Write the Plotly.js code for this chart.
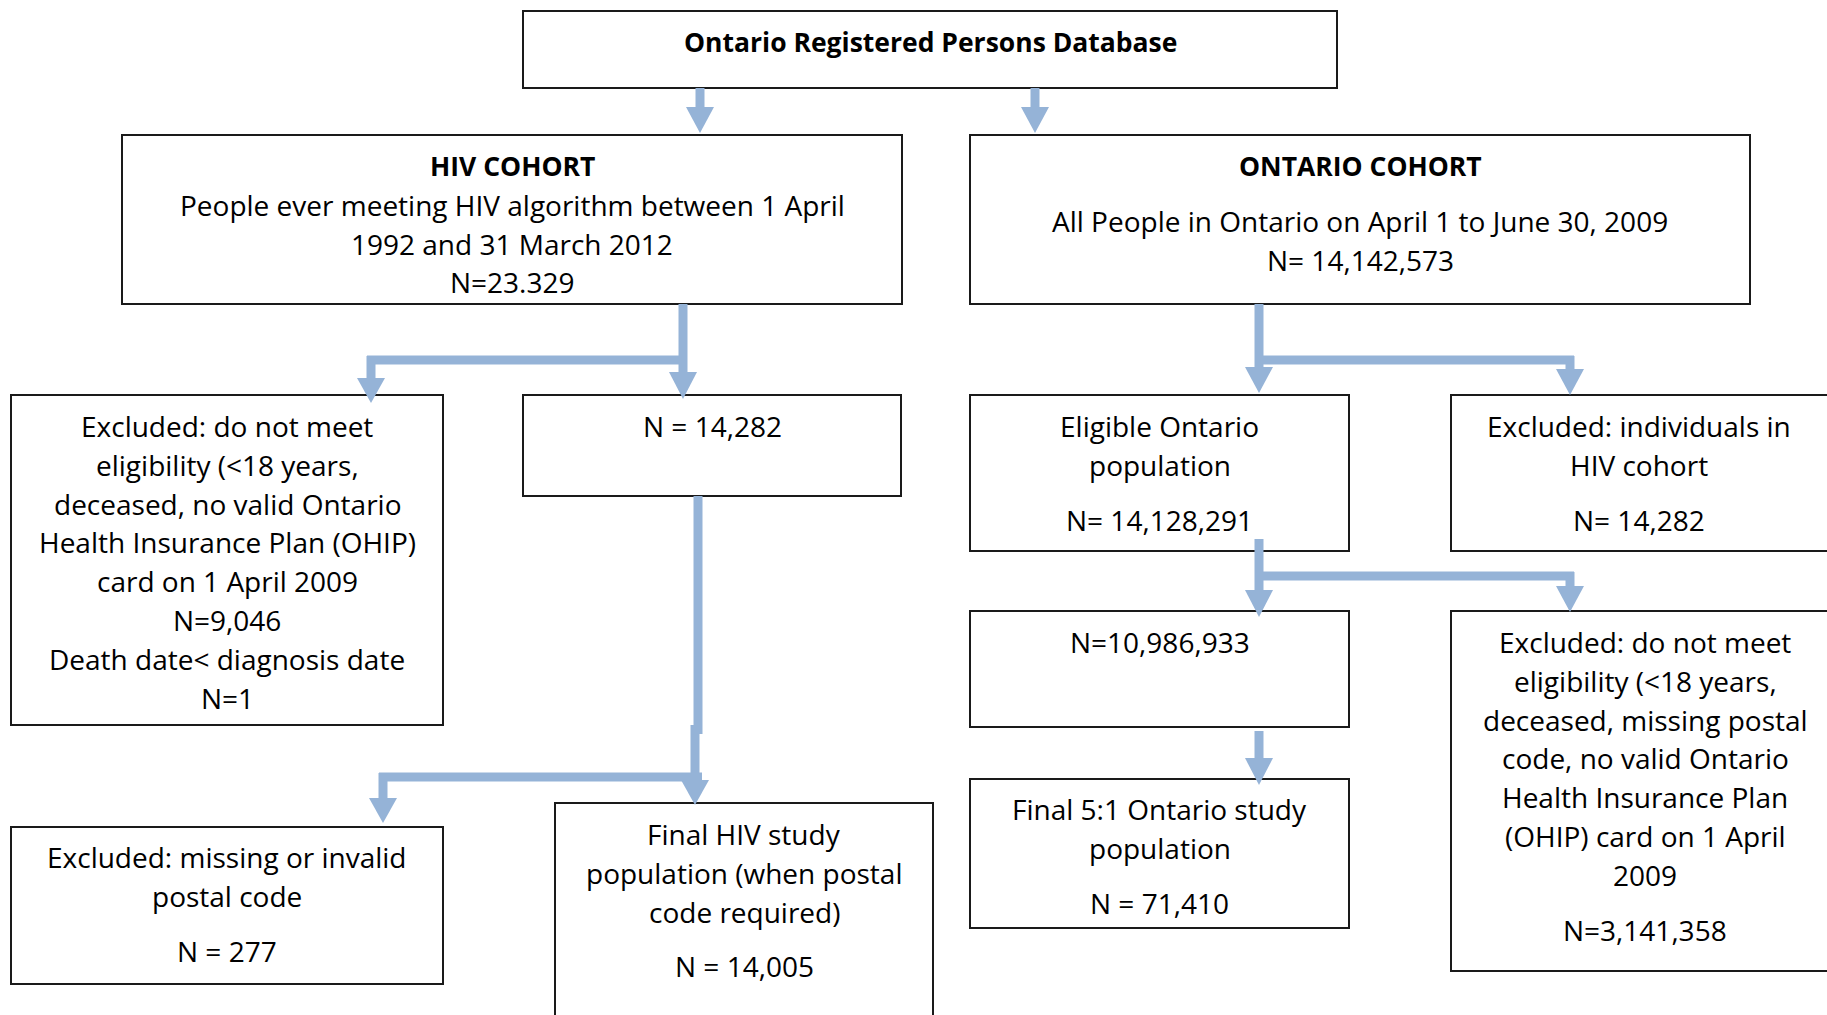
<!DOCTYPE html>
<html>
<head>
<meta charset="utf-8">
<script src="https://cdn.plot.ly/plotly-3.0.1.min.js"></script>
<style>html,body{margin:0;padding:0;background:#fff;}#chart{width:1827px;height:1015px;}</style>
</head>
<body>
<div id="chart"></div>
<script>
// ---- DATA: box texts (paragraphs separated by "") ----
const sourceLines = ["Ontario Registered Persons Database"];
const hivCohortLines = ["HIV COHORT", "People ever meeting HIV algorithm between 1 April", "1992 and 31 March 2012", "N=23.329"];
const ontCohortLines = ["ONTARIO COHORT", "", "All People in Ontario on April 1 to June 30, 2009", "N= 14,142,573"];
const hivExcl1Lines = ["Excluded: do not meet", "eligibility (<18 years,", "deceased, no valid Ontario", "Health Insurance Plan (OHIP)", "card on 1 April 2009", "N=9,046", "Death date< diagnosis date", "N=1"];
const hivEligibleLines = ["N = 14,282"];
const hivExcl2Lines = ["Excluded: missing or invalid", "postal code", "", "N = 277"];
const hivFinalLines = ["Final HIV study", "population (when postal", "code required)", "", "N = 14,005"];
const ontEligibleLines = ["Eligible Ontario", "population", "", "N= 14,128,291"];
const ontExcl1Lines = ["Excluded: individuals in", "HIV cohort", "", "N= 14,282"];
const ontAfterLines = ["N=10,986,933"];
const ontExcl2Lines = ["Excluded: do not meet", "eligibility (<18 years,", "deceased, missing postal", "code, no valid Ontario", "Health Insurance Plan", "(OHIP) card on 1 April", "2009", "", "N=3,141,358"];
const ontFinalLines = ["Final 5:1 Ontario study", "population", "", "N = 71,410"];

// ---- LAYOUT GEOMETRY (pixel coordinates on the canvas) ----
const W = 1827, H = 1015;
const LINE = 38.8, GAP = 16;
const boxes = [
  {lines: sourceLines,      x0: 523,  x1: 1337, y0: 11,  y1: 88,  ty: 42,  bold: [0]},
  {lines: hivCohortLines,   x0: 122,  x1: 902,  y0: 135, y1: 304, ty: 166, bold: [0]},
  {lines: ontCohortLines,   x0: 970,  x1: 1750, y0: 135, y1: 304, ty: 166, bold: [0]},
  {lines: hivExcl1Lines,    x0: 11,   x1: 443,  y0: 395, y1: 725, ty: 426, bold: []},
  {lines: hivEligibleLines, x0: 523,  x1: 901,  y0: 395, y1: 496, ty: 426, bold: []},
  {lines: ontEligibleLines, x0: 970,  x1: 1349, y0: 395, y1: 551, ty: 426, bold: []},
  {lines: ontExcl1Lines,    x0: 1451, x1: 1829, y0: 395, y1: 551, ty: 426, bold: []},
  {lines: ontAfterLines,    x0: 970,  x1: 1349, y0: 611, y1: 727, ty: 642, bold: []},
  {lines: ontExcl2Lines,    x0: 1451, x1: 1829, y0: 611, y1: 971, ty: 642, bold: [], cx: 1645},
  {lines: hivExcl2Lines,    x0: 11,   x1: 443,  y0: 827, y1: 984, ty: 857, bold: []},
  {lines: hivFinalLines,    x0: 555,  x1: 933,  y0: 803, y1: 1040, ty: 834, bold: []},
  {lines: ontFinalLines,    x0: 970,  x1: 1349, y0: 779, y1: 928, ty: 809, bold: []}
];
// arrows: vertical shaft x, start y, head start y, tip y
const arrows = [
  [700, 88, 107, 133],
  [1035, 88, 107, 133],
  [683, 304, 372, 399],
  [371, 356, 378, 403],
  [1259, 304, 367, 393],
  [1570, 356, 369, 395],
  [698, 496, 733, 733],
  [695, 725, 780, 805],
  [383, 773, 798, 823],
  [1259, 539, 590, 617],
  [1570, 572, 586, 612],
  [1259, 731, 758, 785]
];
// horizontal connectors: y, x from, x to
const connectors = [
  [360, 367, 687],
  [360, 1255, 1574],
  [576, 1255, 1574],
  [777, 379, 702]
];

const ARROW = '#95B3D7';
const SHAFT = 9, HEADW = 28;
const FONT = 'Open Sans, Lato, Liberation Sans, sans-serif';

const shapes = [];
const annotations = [];

connectors.forEach(c => {
  shapes.push({type: 'rect', xref: 'x', yref: 'y', x0: c[1], x1: c[2], y0: c[0] - SHAFT / 2, y1: c[0] + SHAFT / 2,
    fillcolor: ARROW, line: {width: 0}, layer: 'above'});
});
arrows.forEach(a => {
  const [x, ys, yh, yt] = a;
  if (yh > ys) {
    shapes.push({type: 'rect', xref: 'x', yref: 'y', x0: x - SHAFT / 2, x1: x + SHAFT / 2, y0: ys, y1: yh + 1,
      fillcolor: ARROW, line: {width: 0}, layer: 'above'});
  }
  if (yt > yh) {
    shapes.push({type: 'path', xref: 'x', yref: 'y',
      path: `M${x - HEADW / 2},${yh} L${x + HEADW / 2},${yh} L${x},${yt} Z`,
      fillcolor: ARROW, line: {width: 0}, layer: 'above'});
  }
});

boxes.forEach(b => {
  shapes.push({type: 'rect', xref: 'x', yref: 'y', x0: b.x0, x1: b.x1, y0: b.y0, y1: b.y1,
    fillcolor: 'rgba(0,0,0,0)', line: {color: '#1a1a1a', width: 2}, layer: 'below'});
  const cx = b.cx !== undefined ? b.cx : (b.x0 + Math.min(b.x1, W)) / 2;
  let y = b.ty;
  b.lines.forEach((t, i) => {
    if (t === '') { y += GAP; return; }
    annotations.push({xref: 'x', yref: 'y', x: cx, y: y, text: b.bold.includes(i) ? '<b>' + t + '</b>' : t,
      showarrow: false, xanchor: 'center', yanchor: 'middle',
      font: {family: FONT, size: b.bold.includes(i) ? 26.5 : 28, color: '#000'}});
    y += LINE;
  });
});

const layout = {
  width: W, height: H,
  margin: {l: 0, r: 0, t: 0, b: 0},
  paper_bgcolor: '#fff', plot_bgcolor: '#fff',
  xaxis: {range: [0, W], visible: false, fixedrange: true},
  yaxis: {range: [H, 0], visible: false, fixedrange: true},
  showlegend: false,
  shapes: shapes,
  annotations: annotations
};
Plotly.newPlot('chart', [{x: [], y: [], type: 'scatter', hoverinfo: 'skip'}], layout, {displayModeBar: false, staticPlot: true});
</script>
</body>
</html>
